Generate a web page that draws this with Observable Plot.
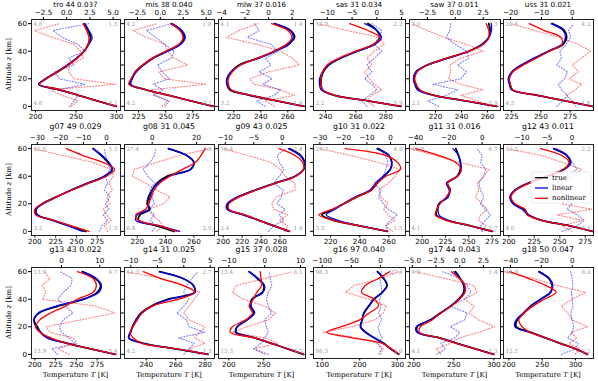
<!DOCTYPE html>
<html><head><meta charset="utf-8">
<script src="https://cdn.jsdelivr.net/npm/d3@7"></script>
<script src="https://cdn.jsdelivr.net/npm/@observablehq/plot@0.6"></script>
<style>
body{margin:0;background:#fff;}
#fig{position:relative;width:598px;height:381px;overflow:hidden;background:#fff;}
</style></head><body><div id="fig"></div>
<script>
const altitudes = [0,4,8,12,16,20,25,30,35,40,45,50,55,60];
const panelTitles = ["tro 44 0.037","mis 38 0.040","mlw 37 0.016","sas 31 0.034","saw 37 0.011","uss 31 0.021",
  "g07 49 0.029","g08 31 0.045","g09 43 0.025","g10 31 0.022","g11 31 0.016","g12 43 0.011",
  "g13 43 0.022","g14 31 0.025","g15 37 0.028","g16 97 0.040","g17 44 0.043","g18 50 0.047"];
const trueT = [
 [300,276,253,230,204,213,227,240,251,260,265,268,265,260],
 [294,273,253,232,217,219,222,229,238,251,263,267,264,255],
 [272,252,232,217,215,215,218,224,238,250,260,265,262,250],
 [290,268,246,238,237,237,238.5,242,250,261,272,276,274,268],
 [267,243,219,207,205,203.5,205,213.6,229,245.6,256,261,262,261],
 [294,271,247,225.5,223.5,222.7,225.5,234,245,256.6,269,272,270,259.5],
 [261,242,222,203,201,209,226,244,264,284,293,288,280,270],
 [246,234,221,222,229,227,228,230.5,234,241,257.6,260,255,242],
 [270,254,238,222,205,205,216,234,255,276,285,286,282,270],
 [259,240,222,214,222,229,238,248,252,256.5,261,262,260,252],
 [275,252,227,215,216,218,227,230,227,237.5,241,241,239,236],
 [282,260,232,219,215,205,201.6,206.5,219.5,237.5,254,260,257,244],
 [297,267,239,215,207,203,199,205,228,259,275,279,273,257],
 [282,260,238,228,229.4,230.6,233,236.5,243.5,255,273,272,265,249],
 [307,284,261,237,210,212,226,236,231,233,248,250,241,229],
 [304,282,264,238,216,202,207,211,224,238,260,273,264,247],
 [300,277,254,232,205,204,221,233,246,256,262.5,262.5,258,252],
 [318,300,277,255,233,211,212.5,222.5,232.5,247.5,262.5,265,260,245]];
const linearT = [
 [300,276,253,230,204,212,226,239,251,260,266,270,266,261],
 [294,273,253,232,218,219,223,230,239,252,264,268,265,256],
 [272,252,232,218,215,215,218,225,239,251,261,264,262,250],
 [290,268,246,237,236,236,238,242,250,261,273,277,274,266],
 [267,243,219,206,204,203,205,214,230,246,256,261,263,263],
 [294,271,247,225,223,222,225,233,244,256,268,271,269,259],
 [257,240,221,203,202,210,226,244,263,283,293,289,281,270],
 [250,236,219,220,228,228,229,231,235,243,258,260,255,242],
 [269,253,237,221,204,204,215,234,255,276,285,286,281,269],
 [259,240,225,217,223,229,237,247,251,256,261,262,260,253],
 [275,251,228,218,217,218,228,229,226,238,242,241,239,233],
 [282,260,233,219,213,204,201,206,219,238,255,261,257,244],
 [297,267,240,215,207,201,199,204,226,258,277,280,274,257],
 [282,260,238,228,229,231,233,237,244,256,273,272,265,249],
 [307,284,261,237,211,212,226,237,232,234,249,251,242,229],
 [304,283,262,240,215,203,206,212,225,237,261,272,264,248],
 [300,277,254,231,204,203,221,234,246,257,263,263,258,250],
 [318,300,277,254,231,209,211,222,233,248,263,266,261,245]];
const nonlinearT = [
 [300,276,253,231,205,213,227,240,252,260,265,266,263,259],
 [294,273,253,232,216,218,222,229,238,250,262,266,263,255],
 [272,252,233,218,216,216,219,225,238,250,259,263,260,248],
 [290,268,246,238,237,237,238,241,249,260,272,276,268,256],
 [268,244,219,208,205,204,206,214,229,246,257,261,261,259],
 [294,271,247,226,224,223,226,235,246,257,268,267,253,240],
 [265,244,223,201,200,209,226,245,265,286,296,282,258,238],
 [248,236,221,219,226,228,230,232,236,243,252,261,265,268],
 [270,254,238,223,206,206,217,235,256,277,285,284,276,259],
 [259,240,222,212,221,229,238,248,252,258,268,266,258,230],
 [276,252,226,214,216,219,226,230,227,238,242,236,218,193],
 [282,260,232,218,216,206,202,207,220,238,254,259,252,231],
 [297,267,239,219,206,201,206,219,237,251,270,274,270,251],
 [282,261,237,231,229,231,234,237,244,262,273,265,250,238],
 [307,284,261,237,202,205,224,234,229,235,240,247,246,245],
 [304,285,260,180,112,150,200,225,250,240,205,215,250,280],
 [300,277,253,232,207,208,223,234,247,257,264,264,257,247],
 [318,300,277,255,232,220,215,223,236,253,271,255,230,201]];
const diffNonlinear = [
 [0.5,1.2,-0.5,-1.8,5.3,0.8,0.2,0.3,1.8,1.5,0.8,-1.5,-3.5,-0.8],
 [0.2,0.8,-0.5,-1.0,5.0,0.5,-0.2,3.0,1.5,0.8,0.5,-1.5,-3.0,-0.3],
 [0.5,-0.3,2.2,1.0,-1.2,-1.6,0.0,2.6,2.0,1.0,-1.0,-3.6,-2.5,-0.9],
 [-0.5,-2,-1,1,-0.5,-1.5,-2.5,-1,-2,-0.5,1.5,0.5,-6,-12],
 [3.0,2.0,0.5,2.5,0.5,-0.6,-0.4,-0.5,0.5,2.5,1.0,-1.0,-2.5,-3.9],
 [1,0,-2,1,3,-1,2,0,3,6,2,-4,-12,-20],
 [0.5,-1,2,0,-1.5,1.5,0,2.5,1,3,2,-6,-19,-31.8],
 [2,5,3,0,-2,5,8,2,-3,-9,-8,2,12,26],
 [0.5,1,-0.5,1,-1.5,-1.8,-1,2.3,2.2,0.5,-0.3,-2,-6,-10.3],
 [1,-2,2,-1,-3,-1,-4,-5,-1,2,4,-5,-17,-29.7],
 [0,2,-2,-1,3,0,-4,-2,-3,1,4,-14,-28,-42.9],
 [0,-2,2,-3,4,-2,-1,-3,-2,0,2,-2,-6,-13],
 [2,-1,4,3,-3,-4,5,13.9,9,-5,-4,-5,-3,-4.6],
 [3,1,4,2,3,4,1,0,1,2,3,0,-4,-11],
 [0,-3,3.7,0,-9,-5,1,3,0,-6,-9,-8,0,8],
 [0,5,-5,-40,-98,-50,-10,5,10,-20,-60,-45,0,31],
 [-2,-2.5,-1,0,2,3.7,2,1,1.5,0.5,1.8,1.5,-1.5,-4.7],
 [2,5,-2,3,-1,10,0,-3,-7,0,8.7,-10,-25,-44]];
const diffLinear = [
 [0.3,0.8,1.2,-1.0,2.0,-0.8,-1.3,0.8,0.2,2.0,1.2,-0.5,-1.5,2.4],
 [0.5,1.0,-0.8,0.3,-0.8,1.0,0.2,-0.3,1.2,1.5,0.5,-0.5,-1.5,1.2],
 [-0.3,-1.0,0.5,1.0,-0.5,0.3,-0.8,0.2,-0.3,0.8,0.2,-1.8,-0.8,-1.2],
 [-2,-3,-1.5,0,-1,-2.5,-1,-2,-0.5,1,-0.5,0.5,1,-1],
 [-1.5,-2.5,-0.8,0.2,-2.0,0.5,1.0,0.2,1.2,1.0,0.0,-0.8,-0.5,-0.4],
 [-5,-3,-1.5,-3.5,-4.5,-2.5,-1.5,-5,-3.5,-4,-2,-0.5,-1.2,0.4],
 [-3,-2,0.5,-1.5,1,-0.5,1.5,-1,0.5,-0.5,1.5,0.5,-0.5,-1],
 [0,2,-1,1,-1.5,1,0,-1,1,-2,-4,-1,1,1.5],
 [-2.4,-1.5,0.3,-0.5,0.5,-0.9,-0.2,0.2,-1.5,-0.5,0.3,-0.5,-0.9,0.6],
 [-1,-2,0,3,-1,-3,-5,-4,-7,-3,-2,-1,-2,-5],
 [0,-1,2,5,2,-1,1,-1,-2,1,2,-1,0,-3],
 [-2,1,2.5,1,-1,0,-2,-1,-3,-1,1,0,-1,-3],
 [-1,-2.5,3.5,2,0,-0.5,0.5,3,1,-1,0.5,2.5,2.8,-0.3],
 [0,1,2,-1,4,1,0.5,-1.3,0,1,0,0.5,1.5,2.7],
 [1,-3,-1,0,1,0.5,0,1.9,1,0.5,1,2,1.5,1.4],
 [-3,2,-5,3,-2,-4,2,-3,1,-2,3,1,-1,2],
 [-2.4,-1.5,-2,-0.5,0,-1,0.5,0.8,-1,0.5,1.2,0.8,0,-1.8],
 [-7,2,4,-3,0,1,0,-1,0.5,0,-0.5,0.5,0,-1]];
const tempDomains = [[195,305],[212,295],[208.7,273.1],[232,293],[200,270],[218,295],
 [196,303],[211,274.6],[195,287],[208.3,271.4],[186.4,284],[194.8,283],
 [196,303],[225.2,286.4],[185.3,309.6],[77,322],[194.6,308.4],[192,327]];
const diffDomains = [[-3.8,5.8],[-3.9,5.9],[-4.25,3.13],[-12.8,5.8],[-4.1,4.05],[-22.3,6.9],
 [-32.5,6],[-12.5,28.1],[-11.2,4.1],[-32.7,6.4],[-43.6,11],[-13.7,4.3],
 [-7.8,15.4],[-11.2,5.8],[-12.9,11.4],[-115,43],[-5.3,4.3],[-44.5,13.8]];
const tempTicks = [[200,250,300],[225,250,275],[220,240,260],[240,260,280],[220,240,260],[225,250,275],
 [200,225,250,275],[220,240,260],[200,220,240,260],[220,240,260],[200,225,250,275],[200,225,250,275],
 [200,225,250,275],[240,260,280],[200,250],[100,200,300],[200,250,300],[200,250,300]];
const diffTicks = [[-2.5,0,2.5,5],[-2.5,0,2.5,5],[-4,-2,0,2],[-10,-5,0,5],[-2.5,0,2.5],[-20,-10,0],
 [-30,-20,-10,0],[0,20],[-10,-5,0],[-30,-20,-10,0],[-40,-20,0],[-10,-5,0],
 [0,10],[-10,-5,0,5],[-10,0,10],[-100,-50,0],[-5,-2.5,0,2.5],[-40,-20,0]];
const diffDecimals = [1,1,0,0,1,0, 0,0,0,0,0,0, 0,0,0,0,1,0];
const cornerLabels = [["4.6","1.5","4.6","4.1"],["4.2","1.8","4.2","4.2"],["4.1","1.4","3.2","1.4"],
 ["13.9","2.2","2.2","0.9"],["3.0","1.3","2.1","0.9"],["20.6","4.2","4.5","1.6"],
 ["31.8","5.3","3.2","1.5"],["27.4","3.8","6.4","2.9"],["16.4","2.4","2.4","1.4"],
 ["29.7","4.8","3.3","1.5"],["42.9","6.7","4.1","1.7"],["13.5","2.2","4.0","1.1"],
 ["13.9","4.7","13.9","5.4"],["11.3","2.7","4.2","1.3"],["13.4","8.1","13.3","3.7"],
 ["98.3","27.4","98.3","3.0"],["4.9","1.4","4.1","1.3"],["44.9","8.0","12.5","3.2"]];
const legendLabels = ["true","linear","nonlinear"];

// layout
const colLeft = [31,124,218,313,409,503], colRight = [120,214,305,405,500,593];
const rowTop = [19,144,267], rowBottom = [110,235,358];
const ML=30, MR=12, MT=22, MB=22;
const RED="#ff0000", BLUE="#0000ff";
const fig = document.getElementById("fig");

for (let i=0;i<18;i++){
  const r=Math.floor(i/6), c=i%6;
  const fx=colLeft[c], fy=rowTop[r], fw=colRight[c]-fx, fh=rowBottom[r]-fy;
  const rows = altitudes.map((alt,k)=>({alt, t:trueT[i][k], l:linearT[i][k], n:nonlinearT[i][k], dl:diffLinear[i][k], dn:diffNonlinear[i][k]}));
  const style = {background:"transparent", overflow:"visible", fontFamily:"DejaVu Sans", fontSize:"7.2px", color:"#000"};
  const common = {width:fw+ML+MR, height:fh+MT+MB, marginLeft:ML, marginRight:MR, marginTop:MT, marginBottom:MB, style};
  const cl = cornerLabels[i];
  const td = tempDomains[i], dd = diffDomains[i];
  const cornerStyle = {fill:"#999", fontSize:5.6, fontFamily:"DejaVu Serif"};
  const dp = Plot.plot({...common,
    x:{domain:dd}, y:{domain:[-3,63], axis:null},
    marks:[
      Plot.line(rows,{x:"dn", y:"alt", stroke:RED, strokeWidth:1.1, strokeOpacity:0.5, strokeDasharray:"1.1,1.8", clip:true}),
      Plot.line(rows,{x:"dl", y:"alt", stroke:BLUE, strokeWidth:1.1, strokeOpacity:0.5, strokeDasharray:"1.1,1.8", clip:true}),
      Plot.axisX({anchor:"top", ticks:diffTicks[i].filter(v=>v>=dd[0]&&v<=dd[1]), tickFormat:d3.format(diffDecimals[i]?".1f":"d"), tickSize:3, tickPadding:1.5, label:null})
    ]});
  const tp = Plot.plot({...common,
    x:{domain:td}, y:{domain:[-3,63]},
    marks:[
      Plot.line(rows,{x:"t", y:"alt", stroke:"#000", strokeWidth:1.8, curve:"catmull-rom", clip:true}),
      Plot.line(rows,{x:"l", y:"alt", stroke:BLUE, strokeWidth:1.3, curve:"catmull-rom", clip:true}),
      Plot.line(rows,{x:"n", y:"alt", stroke:RED, strokeWidth:1.3, curve:"catmull-rom", clip:true}),
      Plot.axisX({anchor:"bottom", ticks:tempTicks[i].filter(v=>v>=td[0]&&v<=td[1]), tickFormat:d3.format("d"), tickSize:2.5, tickPadding:0.5, label:null}),
      Plot.axisY({anchor:"left", ticks: c===0?[0,20,40,60]:[0,10,20,30,40,50,60], tickFormat: c===0?d3.format("d"):(()=>""), tickSize:3, tickPadding:1.5, label:null}),
      Plot.frame({stroke:"#222", strokeWidth:1}),
      Plot.text([cl[0]],{frameAnchor:"top-left", textAnchor:"start", lineAnchor:"top", dx:2, dy:3, ...cornerStyle}),
      Plot.text([cl[1]],{frameAnchor:"top-right", textAnchor:"end", lineAnchor:"top", dx:-3, dy:3, ...cornerStyle}),
      Plot.text([cl[2]],{frameAnchor:"bottom-left", textAnchor:"start", lineAnchor:"bottom", dx:2, dy:-6, ...cornerStyle}),
      Plot.text([cl[3]],{frameAnchor:"bottom-right", textAnchor:"end", lineAnchor:"bottom", dx:-3, dy:-6, ...cornerStyle})
    ]});
  for (const el of [dp,tp]) {
    el.style.position="absolute"; el.style.left=(fx-ML)+"px"; el.style.top=(fy-MT)+"px";
    fig.appendChild(el);
  }
}

// overlay text: titles, axis labels, legend
const ov = d3.create("svg").attr("width",598).attr("height",381)
  .style("position","absolute").style("left","0px").style("top","0px").style("overflow","visible");
for (let i=0;i<18;i++){
  const r=Math.floor(i/6), c=i%6;
  const fx=colLeft[c], fy=rowTop[r], fw=colRight[c]-fx, fh=rowBottom[r]-fy;
  ov.append("text").attr("x",fx+fw/2).attr("y",r===0?6.5:fy-15).attr("text-anchor","middle")
    .attr("font-family","DejaVu Sans").attr("font-size",r===0?7.2:7.8).attr("fill","#000").text(panelTitles[i]);
  if (c===0){
    const t = ov.append("text").attr("transform",`translate(9,${fy+fh/2}) rotate(-90)`).attr("text-anchor","middle")
      .attr("dominant-baseline","central").attr("font-family","DejaVu Serif").attr("font-size",7).attr("fill","#000");
    t.append("tspan").text("Altitude ");
    t.append("tspan").attr("font-style","italic").text("z");
    t.append("tspan").text(" [km]");
  }
  if (r===2){
    const t = ov.append("text").attr("x",fx+fw/2).attr("y",377).attr("text-anchor","middle")
      .attr("font-family","DejaVu Serif").attr("font-size",7).attr("fill","#000");
    t.append("tspan").text("Temperature ");
    t.append("tspan").attr("font-style","italic").text("T");
    t.append("tspan").text(" [K]");
  }
}
// legend in g12 panel
const lg = ov.append("g");
lg.append("rect").attr("x",531).attr("y",172).attr("width",60).attr("height",31).attr("rx",2)
  .attr("fill","#fff").attr("fill-opacity",0.8).attr("stroke","#ddd").attr("stroke-width",0.6);
const lcol = ["#000",BLUE,RED];
legendLabels.forEach((lab,k)=>{
  const y = 177.7 + k*10.3;
  lg.append("line").attr("x1",535).attr("x2",548).attr("y1",y).attr("y2",y).attr("stroke",lcol[k]).attr("stroke-width",1.3);
  lg.append("text").attr("x",552).attr("y",y).attr("dominant-baseline","central")
    .attr("font-family","DejaVu Serif").attr("font-size",7).attr("fill","#000").text(lab);
});
fig.appendChild(ov.node());
</script></body></html>
